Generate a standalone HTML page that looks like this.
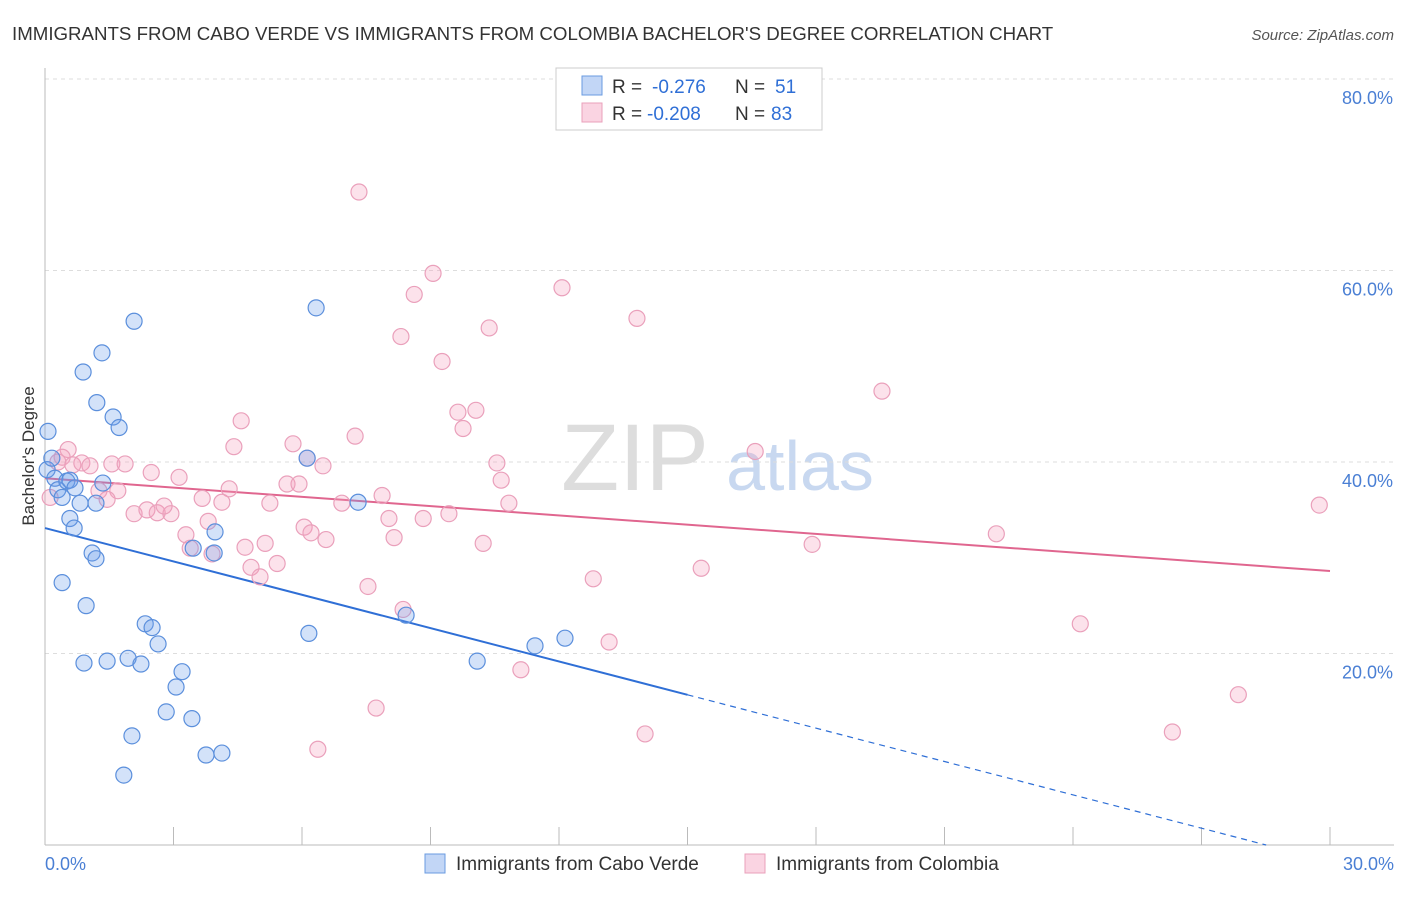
<!DOCTYPE html>
<html><head><meta charset="utf-8"><style>
body{margin:0;background:#fff;font-family:"Liberation Sans",sans-serif;}
svg text{font-family:"Liberation Sans",sans-serif;}
</style></head><body>
<svg id="chart" width="1406" height="892" xmlns="http://www.w3.org/2000/svg">
<text x="12" y="40" font-size="18.7" fill="#333">IMMIGRANTS FROM CABO VERDE VS IMMIGRANTS FROM COLOMBIA BACHELOR'S DEGREE CORRELATION CHART</text>
<text x="1394" y="40" font-size="15" fill="#555" text-anchor="end" font-style="italic">Source: ZipAtlas.com</text>
<g>
<text x="635" y="490" font-size="95" fill="#ddd" text-anchor="middle" font-family="Liberation Serif">ZIP</text>
<text x="800" y="490" font-size="70" fill="#c8d8f0" text-anchor="middle">atlas</text>
</g>
<g id="grid"></g>
<g id="axes"></g>
<g id="lines"></g>
<g id="pts"></g>
<text transform="translate(34,456) rotate(-90)" font-size="17" fill="#333" text-anchor="middle">Bachelor's Degree</text>
<text x="45" y="870" font-size="18" fill="#4a7fd4">0.0%</text>
<text x="1394" y="870" font-size="18" fill="#4a7fd4" text-anchor="end">30.0%</text>
<g>
<rect x="556" y="68" width="266" height="62" fill="#fff" stroke="#ccc"/>
<rect x="582" y="76" width="20" height="19" fill="rgba(120,165,235,0.45)" stroke="#6a9be0"/>
<rect x="582" y="103" width="20" height="19" fill="rgba(245,160,190,0.45)" stroke="#eaa0bb"/>
<text x="612" y="93" font-size="19" fill="#333">R =</text>
<text x="652" y="93" font-size="19" fill="#2f6fd6">-0.276</text>
<text x="735" y="93" font-size="19" fill="#333">N =</text>
<text x="775" y="93" font-size="19" fill="#2f6fd6">51</text>
<text x="612" y="120" font-size="19" fill="#333">R =</text>
<text x="647" y="120" font-size="19" fill="#2f6fd6">-0.208</text>
<text x="735" y="120" font-size="19" fill="#333">N =</text>
<text x="771" y="120" font-size="19" fill="#2f6fd6">83</text>
</g>
<g>
<rect x="425" y="854" width="20" height="19" fill="rgba(120,165,235,0.45)" stroke="#6a9be0"/>
<text x="456" y="870" font-size="19" fill="#333">Immigrants from Cabo Verde</text>
<rect x="745" y="854" width="20" height="19" fill="rgba(245,160,190,0.45)" stroke="#eaa0bb"/>
<text x="776" y="870" font-size="19" fill="#333">Immigrants from Colombia</text>
</g>
</svg>
<script>
const yTicks=[20,40,60,80];
const xTickVals=[0,3,6,9,12,15,18,21,24,27,30];
const blueX=[0.07,0.05,0.16,0.23,0.30,0.40,0.51,0.58,0.70,0.58,0.68,0.40,0.82,0.89,1.21,1.33,1.59,1.73,1.35,1.19,1.10,1.19,0.96,2.08,6.33,6.12,7.31,3.97,3.46,3.95,2.34,2.50,2.64,1.94,2.24,1.45,0.91,3.20,3.06,2.83,3.43,2.03,3.76,4.13,1.84,6.16,8.43,10.09,11.44,12.14];
const blueY=[43.2,39.2,40.4,38.3,37.1,36.3,38.0,38.1,37.3,34.1,33.1,27.4,35.7,49.4,46.2,51.4,44.7,43.6,37.8,35.7,30.5,29.9,25.0,54.7,56.1,40.4,35.8,32.7,31.0,30.5,23.1,22.7,21.0,19.5,18.9,19.2,19.0,18.1,16.5,13.9,13.2,11.4,9.4,9.6,7.3,22.1,24.0,19.2,20.8,21.6];
const pinkX=[7.33,9.06,8.62,12.07,10.37,13.82,8.31,9.27,19.54,9.64,10.06,9.76,4.58,7.24,5.79,4.41,6.12,6.49,0.54,0.40,0.30,0.65,0.86,1.05,1.56,1.87,2.48,3.13,10.55,10.65,16.58,1.26,1.70,1.45,4.30,5.65,5.93,7.87,6.93,5.25,3.67,4.13,10.83,2.08,2.38,2.62,2.94,2.78,3.81,6.05,6.21,6.56,8.03,8.83,9.43,8.15,3.29,3.39,3.90,4.67,5.14,5.42,4.81,5.02,10.23,17.91,22.21,29.75,7.54,12.80,15.32,8.36,13.17,24.17,11.11,7.73,14.01,6.37,27.86,26.32,0.12];
const pinkY=[68.2,59.7,57.5,58.2,54.0,55.0,53.1,50.5,47.4,45.2,45.4,43.5,44.3,42.7,41.9,41.6,40.4,39.6,41.3,40.5,40.0,39.7,39.9,39.6,39.8,39.8,38.9,38.4,39.9,38.1,41.1,37.0,37.0,36.1,37.2,37.7,37.7,36.5,35.7,35.7,36.2,35.8,35.7,34.6,35.0,34.7,34.6,35.4,33.8,33.2,32.6,31.9,34.1,34.1,34.6,32.1,32.4,31.0,30.4,31.1,31.5,29.4,29.0,28.0,31.5,31.4,32.5,35.5,27.0,27.8,28.9,24.6,21.2,23.1,18.3,14.3,11.6,10.0,15.7,11.8,36.3];
const blueFit=[33.1,-1.161];
const pinkFit=[38.3,-0.323];
const X0=45,X1=1330,Y0=845,PER=191.5/20;
const sx=v=>X0+(v/30)*(X1-X0);
const sy=v=>Y0-v*PER;
const NS="http://www.w3.org/2000/svg";
function mk(tag,attrs,parent){const e=document.createElementNS(NS,tag);for(const k in attrs)e.setAttribute(k,attrs[k]);document.getElementById(parent).appendChild(e);return e;}
yTicks.forEach(t=>{
 const l=mk('line',{x1:X0,x2:1394,y1:sy(t),y2:sy(t),stroke:'#ddd','stroke-dasharray':'4,4'},'grid');
 
 
 const tx=mk('text',{x:1393,y:sy(t)+25,'font-size':18,fill:'#4a7fd4','text-anchor':'end'},'grid');
 tx.textContent=t.toFixed(1)+'%';
 
 
});
const ax=mk('line',{x1:X0,x2:X0,y1:68,y2:Y0,stroke:'#bbb'},'axes');


const bx=mk('line',{x1:X0,x2:1394,y1:Y0,y2:Y0,stroke:'#bbb'},'axes');


xTickVals.forEach(t=>{
 const l=mk('line',{x1:sx(t),x2:sx(t),y1:Y0,y2:Y0-18,stroke:'#bbb'},'axes');
 
 
});
function drawPts(xs,ys,fill,stroke,name){
 xs.forEach((x,i)=>{
  const c=mk('circle',{cx:sx(x),cy:sy(ys[i]),r:8,fill:fill,stroke:stroke,'stroke-width':1.2},'pts');
  
  
 });
}
drawPts(pinkX,pinkY,'rgba(245,160,190,0.3)','#eaa0bb','colombia-point');
drawPts(blueX,blueY,'rgba(110,160,235,0.3)','#5b8fdc','cabo-verde-point');
const fb=x=>blueFit[0]+blueFit[1]*x, fp=x=>pinkFit[0]+pinkFit[1]*x;
const b1=mk('line',{x1:sx(0),y1:sy(fb(0)),x2:sx(15),y2:sy(fb(15)),stroke:'#2f6fd6','stroke-width':2},'lines');


const xe=-blueFit[0]/blueFit[1];
const b2=mk('line',{x1:sx(15),y1:sy(fb(15)),x2:sx(xe),y2:sy(0),stroke:'#2f6fd6','stroke-width':1.2,'stroke-dasharray':'6,5'},'lines');


const p1=mk('line',{x1:sx(0),y1:sy(fp(0)),x2:sx(30),y2:sy(fp(30)),stroke:'#e0668f','stroke-width':2},'lines');


</script>
</body></html>
